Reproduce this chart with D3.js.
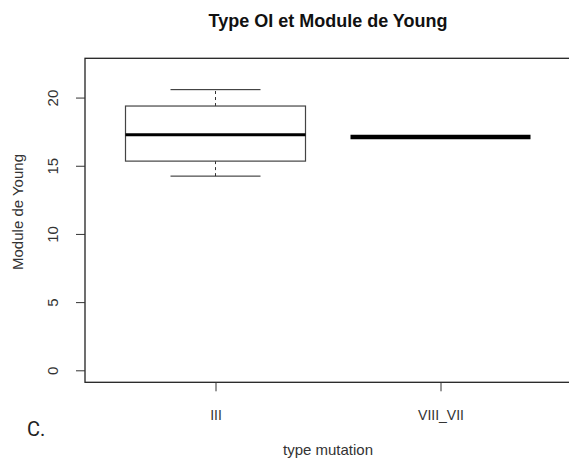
<!DOCTYPE html>
<html>
<head>
<meta charset="utf-8">
<script src="https://cdn.jsdelivr.net/npm/d3@7"></script>
<style>
  body { margin: 0; background: #fff; }
  svg { display: block; font-family: "Liberation Sans", Arial, sans-serif; }
</style>
</head>
<body>
<svg id="chart" width="569" height="464"></svg>
<script>
var width = 569, height = 464

// data
var categories = ["III", "VIII_VII"]
var whiskerLow = [14.24, 17.10]
var q1 = [15.34, 17.10]
var medians = [17.28, 17.10]
var q3 = [19.38, 17.10]
var whiskerHigh = [20.58, 17.10]
var yTicks = [0, 5, 10, 15, 20]

var svg = d3.select("#chart")

var plot = {left: 85, right: 571, top: 58.3, bottom: 382.3}

// R style: xlim 0.5..2.5 and ylim 0..22, each widened by 4%
var x = d3.scaleLinear()
    .domain([0.42, 2.58])
    .range([plot.left, plot.right])

var y = d3.scaleLinear()
    .domain([-0.88, 22.88])
    .range([plot.bottom, plot.top])

var boxHalf = 0.4, capHalf = 0.2

svg.append("text")
    .attr("x", 328)
    .attr("y", 27)
    .attr("text-anchor", "middle")
    .attr("font-size", 18)
    .attr("font-weight", "bold")
    .attr("fill", "#111")
    .text("Type OI et Module de Young")

// boxes
var g = svg.append("g")

categories.forEach(function (c, i) {
    var cx = i + 1
    var flat = q1[i] == q3[i]
    if (!flat) {
        g.append("line")
            .attr("x1", x(cx)).attr("x2", x(cx))
            .attr("y1", y(q3[i])).attr("y2", y(whiskerHigh[i]))
            .attr("stroke", "#333").attr("stroke-dasharray", "3,3")
        g.append("line")
            .attr("x1", x(cx)).attr("x2", x(cx))
            .attr("y1", y(q1[i])).attr("y2", y(whiskerLow[i]))
            .attr("stroke", "#333").attr("stroke-dasharray", "3,3")
        g.append("line")
            .attr("x1", x(cx - capHalf)).attr("x2", x(cx + capHalf))
            .attr("y1", y(whiskerHigh[i])).attr("y2", y(whiskerHigh[i]))
            .attr("stroke", "#222")
        g.append("line")
            .attr("x1", x(cx - capHalf)).attr("x2", x(cx + capHalf))
            .attr("y1", y(whiskerLow[i])).attr("y2", y(whiskerLow[i]))
            .attr("stroke", "#222")
        g.append("rect")
            .attr("x", x(cx - boxHalf))
            .attr("y", y(q3[i]))
            .attr("width", x(cx + boxHalf) - x(cx - boxHalf))
            .attr("height", y(q1[i]) - y(q3[i]))
            .attr("fill", "none")
            .attr("stroke", "#444")
            .attr("stroke-width", 1.2)
    }
    g.append("line")
        .attr("x1", x(cx - boxHalf)).attr("x2", x(cx + boxHalf))
        .attr("y1", y(medians[i])).attr("y2", y(medians[i]))
        .attr("stroke", "#000")
        .attr("stroke-width", flat ? 4.5 : 3)
})

// frame
svg.append("rect")
    .attr("x", plot.left)
    .attr("y", plot.top)
    .attr("width", plot.right - plot.left)
    .attr("height", plot.bottom - plot.top)
    .attr("fill", "none")
    .attr("stroke", "#222")
    .attr("stroke-width", 1.3)

// y axis
var yAxis = svg.append("g")
    .attr("transform", "translate(" + plot.left + ",0)")
    .call(d3.axisLeft(y).tickValues(yTicks).tickSize(9).tickSizeOuter(0))
yAxis.select(".domain").remove()
yAxis.selectAll(".tick line").attr("stroke", "#333")
yAxis.selectAll(".tick text")
    .attr("x", null).attr("dy", null)
    .attr("transform", "translate(-27,0) rotate(-90)")
    .attr("text-anchor", "middle")
    .attr("font-size", 15)
    .attr("font-family", "Liberation Sans, Arial, sans-serif")
    .attr("fill", "#333")

// x axis
var xAxis = svg.append("g")
    .attr("transform", "translate(0," + plot.bottom + ")")
    .call(d3.axisBottom(x).tickValues(categories.map((d, i) => i + 1))
        .tickFormat((d, i) => categories[i]).tickSize(9).tickSizeOuter(0))
xAxis.select(".domain").remove()
xAxis.selectAll(".tick line").attr("stroke", "#333")
xAxis.selectAll(".tick text")
    .attr("y", 38).attr("dy", null)
    .attr("font-size", 14)
    .attr("font-family", "Liberation Sans, Arial, sans-serif")
    .attr("fill", "#333")

svg.append("text")
    .attr("x", 328)
    .attr("y", 455)
    .attr("text-anchor", "middle")
    .attr("font-size", 15)
    .attr("fill", "#333")
    .text("type mutation")

svg.append("text")
    .attr("transform", "translate(23,212) rotate(-90)")
    .attr("text-anchor", "middle")
    .attr("font-size", 15)
    .attr("fill", "#333")
    .text("Module de Young")

svg.append("text")
    .attr("x", 27)
    .attr("y", 436)
    .attr("font-size", 20)
    .attr("font-family", "Roboto, sans-serif")
    .attr("fill", "#222")
    .text("C.")
</script>
</body>
</html>
